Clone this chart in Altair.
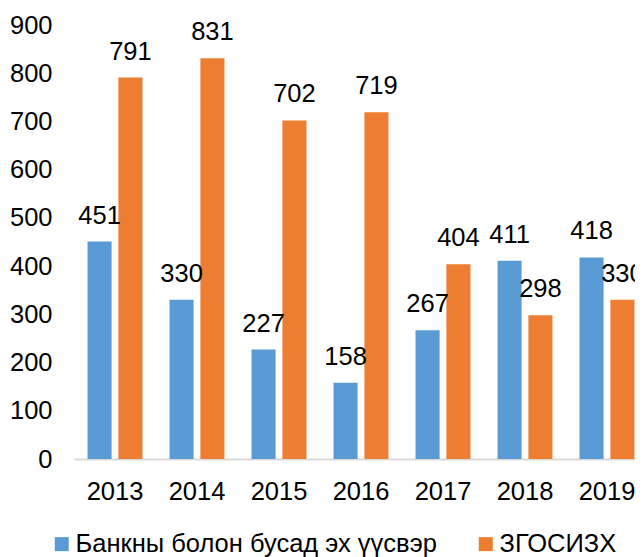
import altair as alt
import pandas as pd

years = ["2013", "2014", "2015", "2016", "2017", "2018", "2019"]
series_names = ["Банкны болон бусад эх үүсвэр", "ЗГОСИЗХ"]
bank = [451, 330, 227, 158, 267, 411, 418]
zgosizh = [791, 831, 702, 719, 404, 298, 330]
y_ticks = [0, 100, 200, 300, 400, 500, 600, 700, 800, 900]
colors = ["#5B9BD5", "#ED7D31"]

rows = []
for i, yr in enumerate(years):
    rows.append({"year": yr, "series": series_names[0], "value": bank[i]})
    rows.append({"year": yr, "series": series_names[1], "value": zgosizh[i]})
df = pd.DataFrame(rows)

FONT = "Liberation Sans"
FS = 25.5

x = alt.X(
    "year:N",
    sort=years,
    title=None,
    scale=alt.Scale(paddingInner=0.33, paddingOuter=0.165, range=[0, 574]),
    axis=alt.Axis(
        labelAngle=0,
        ticks=False,
        domainColor="#D9D9D9",
        domainWidth=2,
        labelFontSize=FS,
        labelFont=FONT,
        labelColor="#000000",
        labelPadding=20,
    ),
)
xoff = alt.XOffset(
    "series:N",
    sort=series_names,
    scale=alt.Scale(paddingInner=0.22, paddingOuter=0),
)
y = alt.Y(
    "value:Q",
    title=None,
    scale=alt.Scale(domain=[0, 900], nice=False),
    axis=alt.Axis(
        values=y_ticks,
        domain=False,
        ticks=False,
        grid=False,
        labelFontSize=FS,
        labelFont=FONT,
        labelColor="#000000",
        labelPadding=22,
    ),
)
color = alt.Color(
    "series:N",
    sort=series_names,
    scale=alt.Scale(domain=series_names, range=colors),
    legend=alt.Legend(
        title=None,
        orient="none",
        direction="horizontal",
        legendX=-25,
        legendY=506,
        symbolType="square",
        symbolSize=196,
        symbolStrokeWidth=0,
        labelFontSize=FS,
        labelFont=FONT,
        labelColor="#000000",
        labelLimit=600,
        labelOffset=1,
        columnPadding=36,
    ),
)

base = alt.Chart(df).encode(x=x, xOffset=xoff, y=y)
bars = base.mark_bar(width=alt.RelativeBandSize(1)).encode(color=color)
labels = base.mark_text(
    baseline="alphabetic", dy=-18, fontSize=FS, font=FONT, color="#000000"
).encode(text=alt.Text("value:Q"))

chart = (
    alt.layer(bars, labels)
    .properties(
        width=561,
        height=434,
        autosize=alt.AutoSizeParams(type="none"),
        padding={"left": 66, "top": 17, "right": 0, "bottom": 98},
    )
    .configure_view(stroke=None)
)

chart.save("out.html", embed_options={"renderer": "svg", "actions": False})
